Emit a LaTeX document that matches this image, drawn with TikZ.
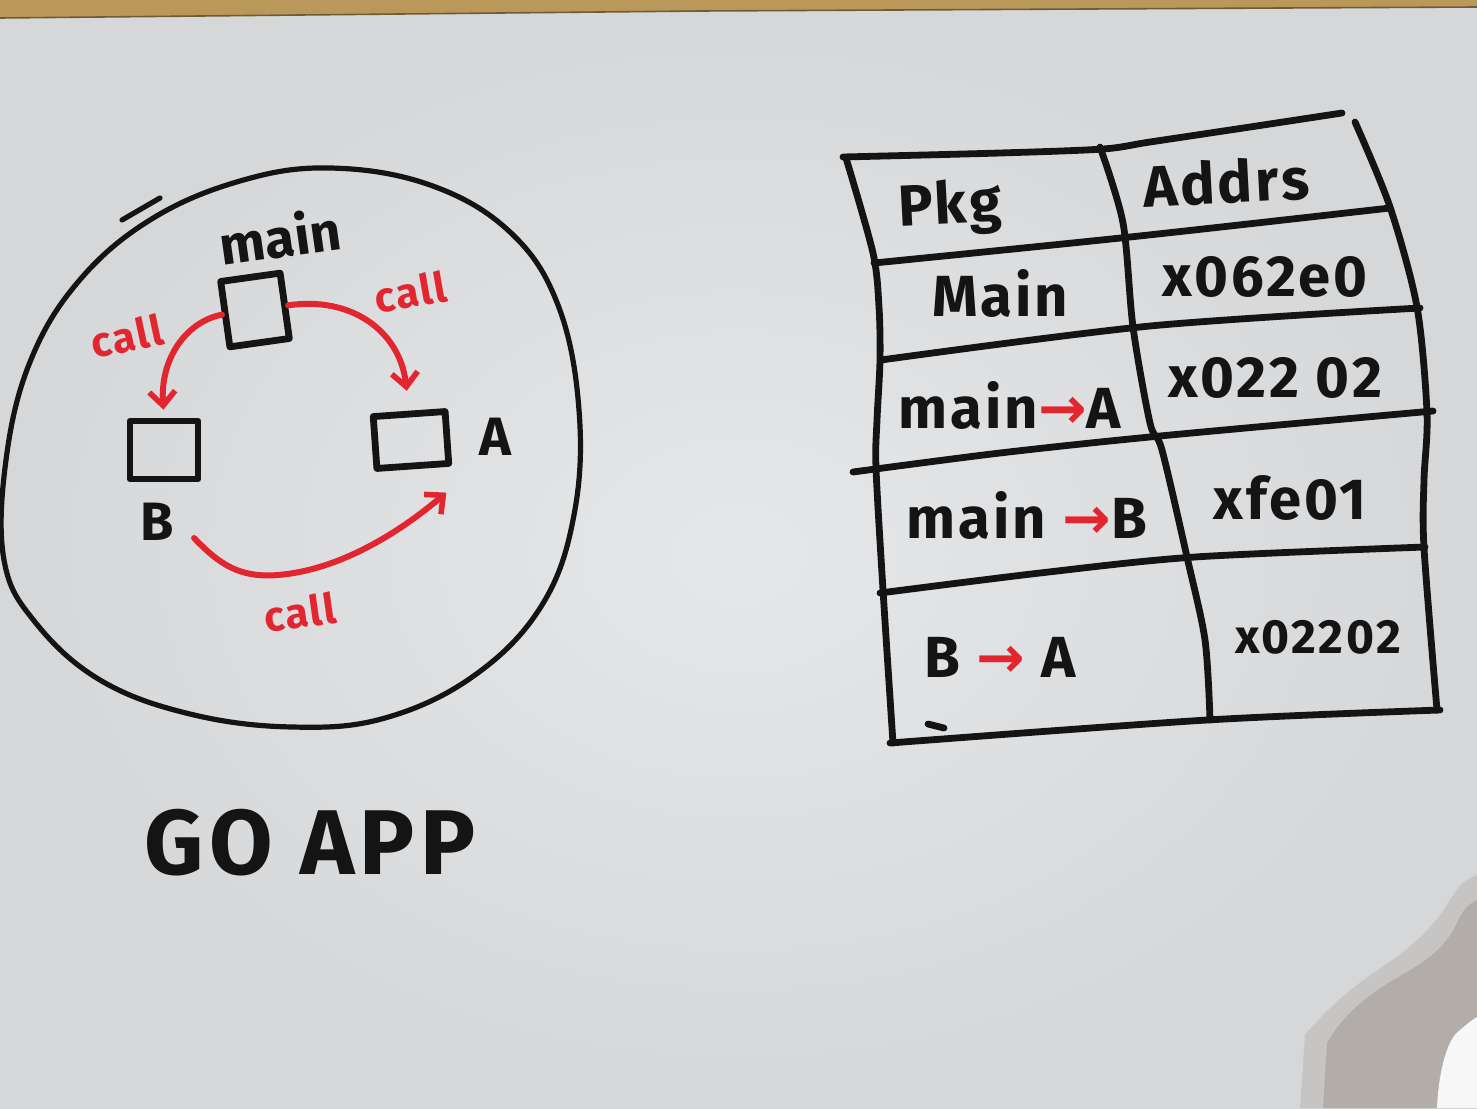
\documentclass[tikz,border=0pt]{standalone}
\usepackage{fontspec}
\usepackage{graphicx}
\setmainfont{Fira Sans}
\newfontfamily\arrowfont{DejaVu Sans}
\usetikzlibrary{arrows.meta,calc}

\definecolor{board}{RGB}{214,215,217}
\definecolor{boardlight}{RGB}{230,231,233}
\definecolor{ink}{RGB}{20,20,20}
\definecolor{redink}{RGB}{226,38,48}
\definecolor{wood}{RGB}{186,152,90}
\definecolor{shadow}{RGB}{170,164,158}

\newcommand{\redarrow}{{\textcolor{redink}{\arrowfont\bfseries →}}}

\tikzset{
  marker/.style={draw=ink, line width=3.4pt, line cap=round, line join=round},
  redmarker/.style={draw=redink, line width=3pt, line cap=round,
    -{Straight Barb[length=7pt,width=13pt,line width=2.8pt]}},
  fbox/.style={marker, inner sep=0pt},
  lbl/.style={text=ink, font=\bfseries\fontsize{27}{28}\selectfont, inner sep=0pt},
  calltxt/.style={text=redink, font=\bfseries\fontsize{21}{22}\selectfont\addfontfeatures{LetterSpace=4}, inner sep=0pt},
  cell/.style={text=ink, font=\bfseries\fontsize{29}{30}\selectfont\addfontfeatures{LetterSpace=5}, inner sep=0pt},
}

\begin{document}
\begin{tikzpicture}[x=0.5pt,y=-0.5pt]
  % board surface
  \useasboundingbox (0,0) rectangle (1477,1108);
  \shade[inner color=boardlight, outer color=board] (0,0) rectangle (1477,1108);
  % wooden frame along the top
  \fill[wood] (0,0) -- (1477,0) -- (1477,7) -- (700,11) -- (0,18) -- cycle;
  \draw[wood!60!black, line width=0.8pt] (0,18) -- (700,11) -- (1477,7);

  % the app boundary
  \draw[ink, line width=2.6pt] plot[smooth cycle, tension=0.65] coordinates {
    (330,168) (430,185) (510,232) (558,305) (579,410) (574,515) (542,605)
    (475,675) (385,718) (292,727) (190,714) (100,680) (35,622) (4,560)
    (6,460) (30,362) (78,282) (150,220) (240,181)};
  \draw[ink, line width=2.6pt, line cap=round] (122,220) -- (160,198);

  % functions
  \node[fbox, minimum width=30pt, minimum height=33pt, rotate=8] (mainbox) at (255,310) {};
  \node[fbox, minimum width=34pt, minimum height=29pt] (bbox) at (164,450) {};
  \node[fbox, minimum width=36pt, minimum height=26pt, rotate=4] (abox) at (411,440) {};

  \node[lbl, rotate=8] (mainlbl) at (280,236) {main};
  \node[lbl] (blbl) at (157,522) {B};
  \node[lbl] (albl) at (495,437) {A};

  % calls
  \draw[redmarker, shorten >=4pt] (mainbox.west)
    .. controls (185,322) and (160,360) .. (bbox.north);
  \draw[redmarker, shorten >=10pt] (mainbox.east)
    .. controls (350,296) and (400,330) .. (abox.north);
  \draw[redmarker] ($(blbl.east)+(20,16)$)
    .. controls (220,565) and (240,578) .. (278,575)
    .. controls (340,570) and (400,532) .. ($(abox.south east)+(-6,26)$);

  \node[calltxt, rotate=12] (calla) at (127,336) {call};
  \node[calltxt, rotate=10] (callb) at (410,292) {call};
  \node[calltxt, rotate=8] (callc) at (300,612) {call};

  \node[text=ink, font=\bfseries\fontsize{46}{48}\selectfont\addfontfeatures{LetterSpace=6}] (title) at (310,843) {GO APP};

  % package / address table
  \draw[marker] plot[smooth, tension=0.5] coordinates {(843,157) (1000,153) (1103,149) (1150,142) (1250,127) (1342,113)};
  \draw[marker] plot[smooth, tension=0.5] coordinates {(846,158) (873,253) (879,307) (880,360) (877,420) (876,468) (883,590) (893,743)};
  \draw[marker] plot[smooth, tension=0.5] coordinates {(1355,122) (1390,207) (1417,307) (1427,413) (1424,480) (1424,548) (1437,710)};
  \draw[marker] plot[smooth, tension=0.5] coordinates {(1100,147) (1123,223) (1133,327) (1150,423) (1162,450) (1187,557) (1205,640) (1210,720)};
  \draw[marker] plot[smooth, tension=0.5] coordinates {(874,263) (1130,237) (1390,208)};
  \draw[marker] plot[smooth, tension=0.5] coordinates {(881,360) (1150,326) (1420,308)};
  \draw[marker] plot[smooth, tension=0.5] coordinates {(853,472) (1000,453) (1160,436) (1433,411)};
  \draw[marker] plot[smooth, tension=0.5] coordinates {(880,593) (1040,573) (1195,557) (1425,547)};
  \draw[marker] plot[smooth, tension=0.5] coordinates {(890,743) (1207,720) (1440,710)};
  \draw[marker] (928,724) -- (944,728);

  \node[cell, rotate=3] (hpkg) at (950,208) {Pkg};
  \node[cell, rotate=3] (haddr) at (1226,182) {Addrs};
  \node[cell] (pmain) at (1000,293) {Main};
  \node[cell] (amain) at (1265,277) {x062e0};
  \node[cell] (pma) at (1010,405) {main\redarrow A};
  \node[cell] (ama) at (1275,378) {x022 02};
  \node[cell] (pmb) at (1027,515) {main \redarrow B};
  \node[cell] (amb) at (1290,498) {xfe01};
  \node[cell] (pba) at (1000,657) {B \redarrow\ A};
  \node[cell, font=\bfseries\fontsize{24}{25}\selectfont\addfontfeatures{LetterSpace=5}] (aba) at (1318,637) {x02202};

  % hand casting a soft shadow in the corner
  \fill[shadow, opacity=0.35] (1300,1108) -- (1305,1035)
    .. controls (1330,1005) and (1355,985) .. (1385,965)
    .. controls (1415,945) and (1435,925) .. (1450,900)
    .. controls (1458,885) and (1468,878) .. (1477,875) -- (1477,1108) -- cycle;
  \fill[shadow, opacity=0.7] (1323,1108) -- (1327,1043)
    .. controls (1340,1020) and (1360,1000) .. (1393,980)
    .. controls (1420,965) and (1445,950) .. (1457,923)
    .. controls (1462,910) and (1470,903) .. (1477,900) -- (1477,1108) -- cycle;
  \fill[white!80!board] (1437,1108) .. controls (1438,1080) and (1445,1040) .. (1460,1030)
    .. controls (1467,1024) and (1472,1020) .. (1477,1017) -- (1477,1108) -- cycle;
\end{tikzpicture}
\end{document}
